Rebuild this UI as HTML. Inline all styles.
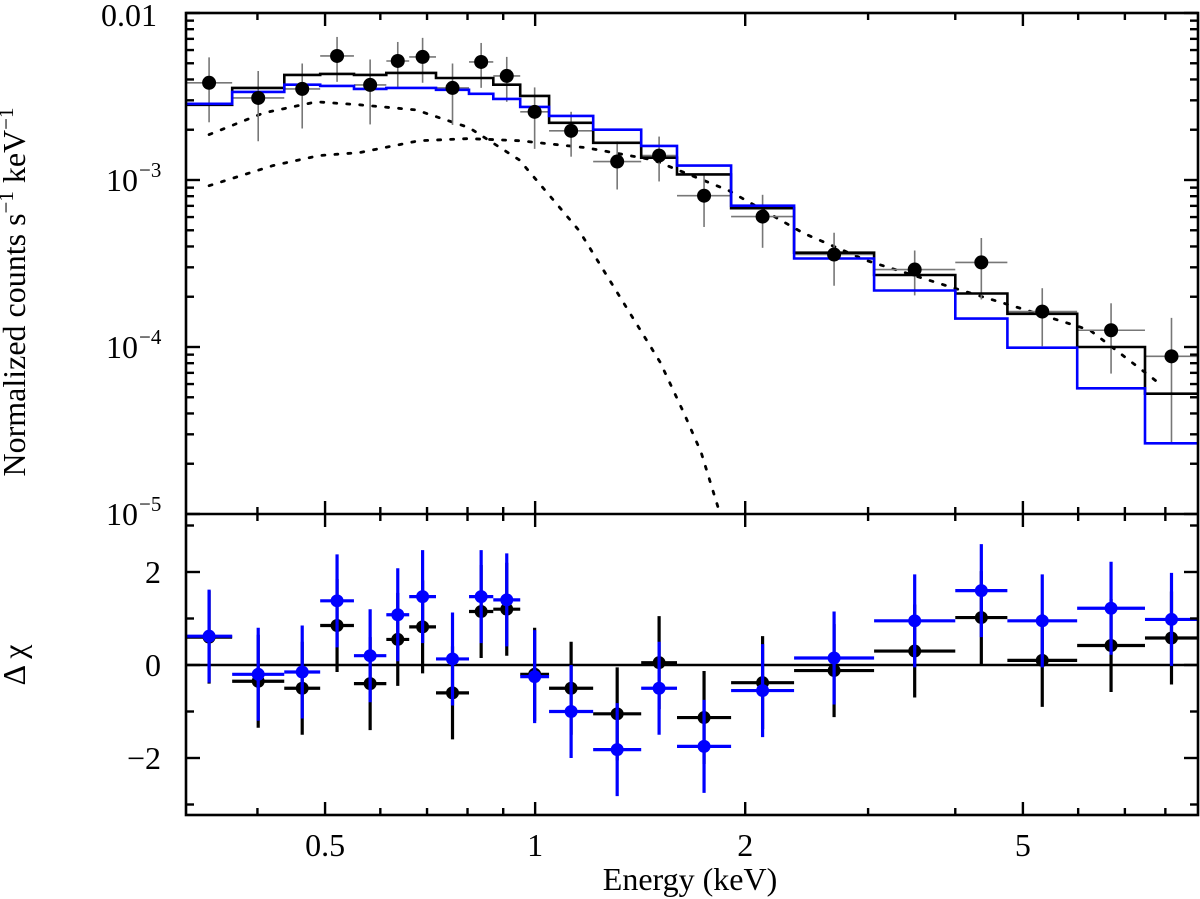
<!DOCTYPE html>
<html><head><meta charset="utf-8"><style>
html,body{margin:0;padding:0;background:#fff;}
svg{display:block;font-family:"Liberation Serif",serif;}
</style></head><body>
<svg id="chart" width="1200" height="899" viewBox="0 0 1200 899" xmlns="http://www.w3.org/2000/svg"></svg>
<script>
// ---- data ----
const binEdges = [0.316,0.368,0.437,0.492,0.550,0.612,0.660,0.721,0.804,0.871,0.952,1.047,1.211,1.419,1.597,1.909,2.350,3.06,4.00,4.75,5.98,7.48,8.91];
const dataFlux = [3.82e-3,3.10e-3,3.51e-3,5.53e-3,3.71e-3,5.16e-3,5.46e-3,3.56e-3,5.09e-3,4.20e-3,2.56e-3,1.97e-3,1.29e-3,1.40e-3,8.05e-4,6.04e-4,3.58e-4,2.91e-4,3.21e-4,1.63e-4,1.26e-4,8.79e-5];
const dataErrFrac = [0.42,0.45,0.42,0.3,0.42,0.3,0.3,0.4,0.3,0.3,0.4,0.3,0.32,0.3,0.35,0.35,0.35,0.3,0.4,0.38,0.45,0.7];
const modelBlack = [2.82e-3,3.56e-3,4.26e-3,4.32e-3,4.26e-3,4.38e-3,4.38e-3,4.08e-3,4.08e-3,3.72e-3,3.19e-3,2.20e-3,1.67e-3,1.36e-3,1.08e-3,6.78e-4,3.67e-4,2.70e-4,2.09e-4,1.58e-4,1.00e-4,5.25e-5];
const modelBlue = [2.86e-3,3.37e-3,3.72e-3,3.66e-3,3.51e-3,3.56e-3,3.56e-3,3.47e-3,3.28e-3,3.06e-3,2.74e-3,2.42e-3,2.00e-3,1.60e-3,1.22e-3,7.02e-4,3.39e-4,2.18e-4,1.48e-4,9.9e-5,5.66e-5,2.65e-5];
const compSoftE = [0.341,0.408,0.486,0.560,0.675,0.804,0.949,1.061,1.156,1.511,1.635,1.729,1.841];
const compSoftV = [1.87e-3,2.52e-3,2.94e-3,2.82e-3,2.63e-3,2.06e-3,1.32e-3,7.62e-4,4.98e-4,8.1e-5,4.0e-5,2.34e-5,1.0e-5];
const compHardE = [0.341,0.421,0.490,0.560,0.682,0.804,0.949,1.183,1.476,1.896,2.429,2.981,3.958,4.97,6.24,7.91];
const compHardV = [9.25e-4,1.22e-3,1.40e-3,1.46e-3,1.72e-3,1.77e-3,1.72e-3,1.56e-3,1.32e-3,8.63e-4,4.78e-4,3.30e-4,2.27e-4,1.70e-4,1.26e-4,5.89e-5];
const residBlack = [0.6,-0.35,-0.5,0.85,-0.4,0.55,0.82,-0.6,1.15,1.2,-0.2,-0.5,-1.05,0.05,-1.13,-0.38,-0.12,0.3,1.02,0.1,0.42,0.58];
const residBlue = [0.62,-0.2,-0.15,1.38,0.2,1.08,1.47,0.13,1.47,1.4,-0.25,-1.0,-1.82,-0.5,-1.75,-0.55,0.15,0.95,1.6,0.95,1.22,0.98];
const residErr = [1,1,1,1,1,1,1,1,1,1,1,1,1,1,1,1,1,1,1,1,1,1];
const xTickMajor = [0.5,1,2,5];
const xTickLabels = ["0.5","1","2","5"];
const xTickMinor = [0.4,0.6,0.7,0.8,0.9,3,4,6,7,8];
const yTopLabels = ["0.01","10","10","10"];
const yTopSup = ["","\u22123","\u22124","\u22125"];
const yBotMajor = [-2,0,2];
const yBotLabels = ["\u22122","0","2"];

// ---- layout ----
const L=186,R=1198,T=13,MID=514,B=815;
const xLo=0.316,xHi=8.91;
const X=e=>L+(Math.log10(e)-Math.log10(xLo))/(Math.log10(xHi)-Math.log10(xLo))*(R-L);
const Yt=v=>T+(-2-Math.log10(v))/3*(MID-T);
const Yb=r=>665-r*46.5;
const svg=document.getElementById('chart');
const NS='http://www.w3.org/2000/svg';
function mk(tag,attrs,parent){const el=document.createElementNS(NS,tag);for(const k in attrs)el.setAttribute(k,attrs[k]);(parent||svg).appendChild(el);return el;}

const defs=mk('defs',{});
const cp1=mk('clipPath',{id:'ct'},defs);mk('rect',{x:L,y:T,width:R-L,height:MID-T},cp1);
const cp2=mk('clipPath',{id:'cb'},defs);mk('rect',{x:L,y:MID,width:R-L,height:B-MID},cp2);
const gT=mk('g',{'clip-path':'url(#ct)'});


const gB=mk('g',{'clip-path':'url(#cb)'});



function curve(E,V,name){
  let d='';E.forEach((e,i)=>{d+=(i?'L':'M')+X(e).toFixed(1)+' '+Yt(V[i]).toFixed(1);});
  const p=mk('path',{d:d,fill:'none',stroke:'#000','stroke-width':2.8,'stroke-dasharray':'3 10','stroke-linecap':'round'},gT);
  
  
}
curve(compSoftE,compSoftV,'soft-component-curve');
curve(compHardE,compHardV,'hard-component-curve');

dataFlux.forEach((v,i)=>{
  const x0=X(binEdges[i]),x1=X(binEdges[i+1]),xc=(x0+x1)/2;
  const s=v*dataErrFrac[i];
  const g=mk('g',{stroke:'#777','stroke-width':1.6},gT);
  
  
  mk('line',{x1:x0,x2:x1,y1:Yt(v),y2:Yt(v)},g);
  mk('line',{x1:xc,x2:xc,y1:Yt(v+s),y2:Yt(Math.max(v-s,1e-6))},g);
});
function step(M,color,name){
  let d='';M.forEach((v,i)=>{const y=Yt(v).toFixed(1);d+=(i?'L':'M')+X(binEdges[i]).toFixed(1)+' '+y+'L'+X(binEdges[i+1]).toFixed(1)+' '+y;});
  const p=mk('path',{d:d,fill:'none',stroke:color,'stroke-width':2.6},gT);
  
  
}
step(modelBlack,'#000','model-black-step');
step(modelBlue,'#0000ff','model-blue-step');
dataFlux.forEach((v,i)=>{
  const xc=(X(binEdges[i])+X(binEdges[i+1]))/2;
  const c=mk('circle',{cx:xc,cy:Yt(v),r:7,fill:'#000'},gT);
  
  
});

mk('line',{x1:L,x2:R,y1:Yb(0),y2:Yb(0),stroke:'#000','stroke-width':2.5},gB);
function resid(Rv,color,name){
  Rv.forEach((r,i)=>{
    const x0=X(binEdges[i]),x1=X(binEdges[i+1]),xc=(x0+x1)/2;
    const g=mk('g',{stroke:color,'stroke-width':3.2,fill:color},gB);
    
    
    mk('line',{x1:x0,x2:x1,y1:Yb(r),y2:Yb(r)},g);
    mk('line',{x1:xc,x2:xc,y1:Yb(r+residErr[i]),y2:Yb(r-residErr[i])},g);
    mk('circle',{cx:xc,cy:Yb(r),r:6.5,stroke:'none'},g);
  });
}
resid(residBlack,'#000','residual-black');
resid(residBlue,'#0000ff','residual-blue');

const fr=mk('g',{fill:'none',stroke:'#000','stroke-width':2.6});


mk('rect',{x:L,y:T,width:R-L,height:B-T},fr);
mk('line',{x1:L,x2:R,y1:MID,y2:MID},fr);

const tk=mk('g',{stroke:'#000','stroke-width':2.4});


function xt(e,len){const x=X(e);
  mk('line',{x1:x,x2:x,y1:T,y2:T+len},tk);
  mk('line',{x1:x,x2:x,y1:MID-len,y2:MID+len},tk);
  mk('line',{x1:x,x2:x,y1:B,y2:B-len},tk);}
xTickMajor.forEach(e=>xt(e,13));
xTickMinor.forEach(e=>xt(e,7));
xTickMajor.forEach((e,i)=>{
  const t=mk('text',{x:X(e),y:856,'font-size':32,'text-anchor':'middle'});
  t.textContent=xTickLabels[i];
  
  
});
const yk=mk('g',{stroke:'#000','stroke-width':2.4});


for(let d=-5;d<=-2;d++){
  for(let m=1;m<10;m++){
    const v=m*Math.pow(10,d); if(v>0.0100001)continue;
    const y=Yt(v),len=m===1?14:8;
    mk('line',{x1:L,x2:L+len,y1:y,y2:y},yk);
    mk('line',{x1:R,x2:R-len,y1:y,y2:y},yk);
  }
}
yTopLabels.forEach((lab,i)=>{
  const y=Yt(Math.pow(10,-2-i))+11;
  const t=mk('text',{x:i?138:157,y:i===0?y+2:y,'font-size':32,'text-anchor':'end'});
  t.textContent=lab;
  
  
  if(yTopSup[i]){const s=mk('text',{x:139,y:y-14,'font-size':21});s.textContent=yTopSup[i];
    
    }
});
for(let r=-3;r<=3;r++){
  const y=Yb(r),len=r%2===0?14:8;
  mk('line',{x1:L,x2:L+len,y1:y,y2:y},yk);
  mk('line',{x1:R,x2:R-len,y1:y,y2:y},yk);
}
yBotMajor.forEach((r,i)=>{
  const t=mk('text',{x:161,y:Yb(r)+11,'font-size':32,'text-anchor':'end'});
  t.textContent=yBotLabels[i];
  
  
});
const yt=mk('text',{transform:'translate(25,292) rotate(-90)','font-size':32,'text-anchor':'middle'});


yt.innerHTML='Normalized counts s<tspan dy="-12" font-size="21">\u22121</tspan><tspan dy="12"> keV</tspan><tspan dy="-12" font-size="21">\u22121</tspan>';
const rt=mk('text',{transform:'translate(25,665) rotate(-90)','font-size':32,'text-anchor':'middle'});
rt.textContent='\u0394 \u03c7';


const xtl=mk('text',{x:690,y:890,'font-size':32,'text-anchor':'middle'});
xtl.textContent='Energy (keV)';


</script>
</body></html>
